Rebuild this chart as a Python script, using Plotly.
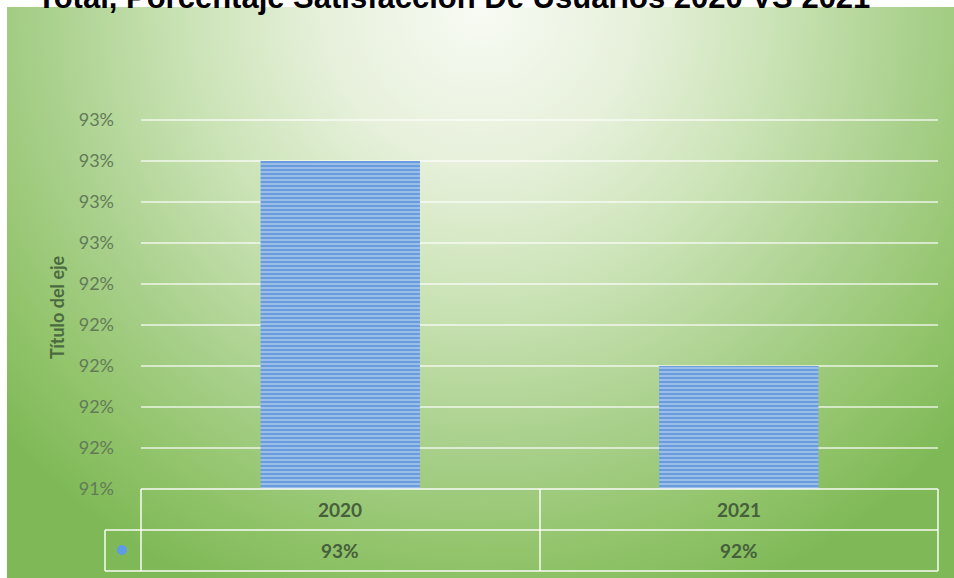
import base64
import plotly.graph_objects as go

# Survey satisfaction, share of satisfied users per year
years = ["2020", "2021"]
satisfaction = [0.93, 0.92]

chart_title = "Total, Porcentaje Satisfacción De Usuarios 2020 VS 2021"
axis_title = "Título del eje"

W, H = 954, 578
L, R, T, B = 141, 16, 118, 89
plot_w = W - L - R
plot_h = H - T - B

# value axis: 0.2-point steps, top slightly padded so the last grid line shows
y_min, y_step, n_steps = 0.914, 0.002, 9
y_max = y_min + y_step * n_steps
y_top_pad = y_step * 2 / 41


def px_x(px):
    return (px - L) / plot_w


def px_y(py):
    return (H - B - py) / plot_h


# soft radial green backdrop of the chart frame
svg = """<svg xmlns='http://www.w3.org/2000/svg' width='947' height='571' viewBox='0 0 947 571'>
<defs><radialGradient id='g' gradientUnits='userSpaceOnUse' cx='473' cy='0' r='640'>
<stop offset='0' stop-color='#f8fbf4'/>
<stop offset='0.25' stop-color='#e6f0da'/>
<stop offset='0.47' stop-color='#c9e2b4'/>
<stop offset='0.70' stop-color='#a7cf89'/>
<stop offset='0.86' stop-color='#92c46b'/>
<stop offset='1' stop-color='#7fb957'/>
</radialGradient></defs>
<rect width='947' height='571' fill='url(#g)'/>
</svg>"""
bg_src = "data:image/svg+xml;base64," + base64.b64encode(svg.encode()).decode()

fig = go.Figure()
fig.add_trace(go.Bar(
    x=years,
    y=satisfaction,
    width=0.4,
    marker=dict(
        color="#6a9cdb",
        line=dict(width=0),
        pattern=dict(shape="-", bgcolor="#6a9cdb", fgcolor="#c9e0f8",
                     size=4, solidity=0.5),
    ),
    showlegend=False,
    hoverinfo="x+y",
))

font_family = "Lato, 'Open Sans', sans-serif"
label_color = "#637a58"
text_color = "#46603c"
grid_color = "rgba(255,255,255,0.6)"
line_color = "rgba(255,255,255,0.7)"

# data table under the plot: column and legend-key cells
x_left, x_mid, x_right, x_key = px_x(141), px_x(540), px_x(938), px_x(105)
y_top, y_row, y_bot = px_y(489), px_y(530), px_y(571)
shapes = []
for (x0, y0, x1, y1) in [
    (x_left, y_top, x_right, y_top),
    (x_key, y_row, x_right, y_row),
    (x_key, y_bot, x_right, y_bot),
    (x_key, y_row, x_key, y_bot),
    (x_left, y_top, x_left, y_bot),
    (x_mid, y_top, x_mid, y_bot),
    (x_right, y_top, x_right, y_bot),
]:
    shapes.append(dict(type="line", xref="paper", yref="paper",
                       x0=x0, y0=y0, x1=x1, y1=y1,
                       line=dict(color=line_color, width=2)))
# legend key swatch
shapes.append(dict(type="circle", xref="paper", yref="paper",
                   x0=px_x(117), x1=px_x(127), y0=px_y(545), y1=px_y(555),
                   fillcolor="#5f9ae6", line=dict(width=0)))

annotations = []
for i, (yr, val) in enumerate(zip(years, satisfaction)):
    annotations.append(dict(x=i, xref="x", y=(y_top + y_row) / 2, yref="paper",
                            yanchor="middle", text=f"<b>{yr}</b>", showarrow=False,
                            font=dict(family=font_family, size=19, color=text_color)))
    annotations.append(dict(x=i, xref="x", y=(y_row + y_bot) / 2, yref="paper",
                            yanchor="middle", text=f"<b>{val:.0%}</b>", showarrow=False,
                            font=dict(family=font_family, size=19, color=text_color)))

annotations.append(dict(x=px_x(453), xref="paper", y=px_y(-2), yref="paper",
                        xanchor="center", yanchor="middle",
                        text=f"<b>{chart_title}</b>", showarrow=False,
                        font=dict(family="'Liberation Sans', Arial, sans-serif",
                                  size=31, color="#000000")))
annotations.append(dict(x=px_x(57), xref="paper", y=px_y(307), yref="paper",
                        xanchor="center", yanchor="middle",
                        text=f"<b>{axis_title}</b>", textangle=-90, showarrow=False,
                        font=dict(family=font_family, size=18, color="#4c6a40")))

fig.update_layout(
    width=W, height=H,
    margin=dict(l=L, r=R, t=T, b=B, pad=0),
    paper_bgcolor="#ffffff",
    plot_bgcolor="rgba(0,0,0,0)",
    bargap=0.6,
    images=[dict(source=bg_src, xref="paper", yref="paper",
                 x=px_x(7), y=px_y(7), sizex=(954 - 7) / plot_w,
                 sizey=(578 - 7) / plot_h, xanchor="left", yanchor="top",
                 sizing="stretch", layer="below")],
    shapes=shapes,
    annotations=annotations,
    xaxis=dict(type="category", range=[-0.5, len(years) - 0.5],
               showticklabels=False, showgrid=False,
               zeroline=False, showline=False, ticks="", fixedrange=True),
    yaxis=dict(range=[y_min, y_max + y_top_pad], tick0=y_min, dtick=y_step,
               tickformat=".0%", showgrid=True, gridcolor=grid_color,
               gridwidth=1.5, zeroline=False, showline=False, ticks="",
               ticklabelstandoff=26,
               tickfont=dict(family=font_family, size=18, color=label_color),
               fixedrange=True),
)

fig.write_html("out.html")
